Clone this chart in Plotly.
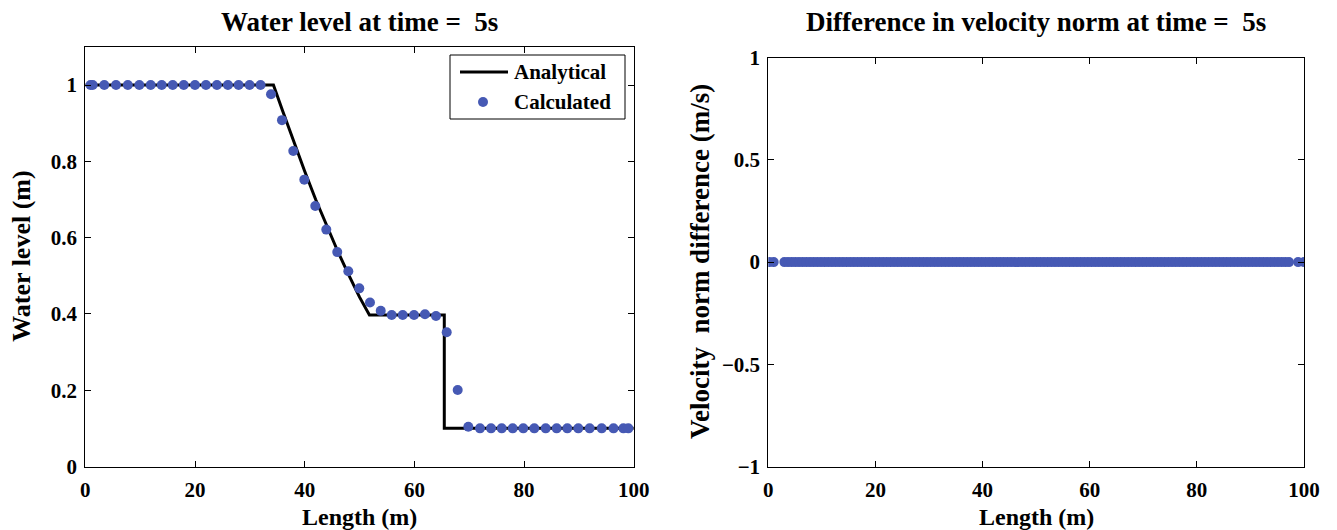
import numpy as np
import plotly.graph_objects as go

# ---- data ----
ana_x = [0, 34.3, 36, 38, 40, 42, 44, 46, 48, 50, 51.8, 65.45, 65.45, 100]
ana_y = [1.0, 1.0, 0.931, 0.850, 0.774, 0.700, 0.631, 0.565, 0.503, 0.444, 0.397, 0.397, 0.1, 0.1]

calc_x = [0.95, 1.35, 3.46, 5.60, 7.75, 9.85, 11.92, 13.93, 15.94, 17.95, 20.0, 22.0, 24.0, 26.0,
          27.95, 29.95, 31.95, 33.86, 35.86, 37.92, 39.93, 41.93, 43.94, 45.94, 47.95, 49.95,
          51.9, 53.86, 55.86, 57.87, 59.93, 61.93, 63.94, 65.89, 67.89, 69.83, 71.96, 73.97,
          75.92, 77.92, 79.85, 81.86, 83.94, 85.94, 87.88, 89.88, 91.95, 94.15, 96.3, 98.1, 99.0]
calc_y = [1.0, 1.0, 1.0, 1.0, 1.0, 1.0, 1.0, 1.0, 1.0, 1.0, 1.0, 1.0, 1.0, 1.0,
          1.0, 1.0, 1.0, 0.976, 0.908, 0.827, 0.752, 0.683, 0.621, 0.562, 0.512, 0.467,
          0.430, 0.408, 0.397, 0.397, 0.397, 0.399, 0.3945, 0.352, 0.2005, 0.104, 0.1, 0.1,
          0.1, 0.1, 0.1, 0.1, 0.1, 0.1, 0.1, 0.1, 0.1, 0.1, 0.1, 0.1, 0.1]

# mesh nodes of the velocity-difference plot
vel_x = [0.2, 1.0] + list(np.linspace(3.0, 97.2, 139)) + [98.9, 100.0]
vel_diff = [0.0] * len(vel_x)

x_ticks = [0, 20, 40, 60, 80, 100]
left_yticks = [0, 0.2, 0.4, 0.6, 0.8, 1]
left_yticklabels = ["0", "0.2", "0.4", "0.6", "0.8", "1"]
right_yticks = [-1, -0.5, 0, 0.5, 1]
right_yticklabels = ["\u22121", "\u22120.5", "0", "0.5", "1"]
legend_names = ["Analytical", "Calculated"]

# ---- styling ----
# the page body has an 8px margin, so the figure starts at (8, 8) in the window
OX, OY = 8, 8
W, H = 1337 - OX, 530 - OY
FONT = "Liberation Serif"
DOT = "#4659B4"
DOT_SIZE = 10

def px_x(p):
    return (p - OX) / W

def px_y(p):
    return 1 - (p - OY) / H

fig = go.Figure()
fig.add_trace(go.Scatter(x=ana_x, y=ana_y, mode="lines", name=legend_names[0],
                         line=dict(color="black", width=3), xaxis="x", yaxis="y",
                         showlegend=False))
fig.add_trace(go.Scatter(x=calc_x, y=calc_y, mode="markers", name=legend_names[1],
                         marker=dict(color=DOT, size=DOT_SIZE), xaxis="x", yaxis="y",
                         showlegend=False))
fig.add_trace(go.Scatter(x=vel_x, y=vel_diff, mode="markers", showlegend=False,
                         marker=dict(color=DOT, size=DOT_SIZE), xaxis="x2", yaxis="y2"))

tickfont = dict(family=FONT, size=21, color="black", weight="bold")
common = dict(showline=True, linecolor="black", linewidth=1, mirror="ticks",
              ticks="inside", ticklen=6, tickcolor="black", tickwidth=1,
              showgrid=False, zeroline=False, tickfont=tickfont, automargin=False)

L1, R1, T1, B1 = 85.3, 633.8, 46.9, 466.5
L2, R2, T2, B2 = 768.3, 1304, 57.7, 466.5

fig.update_layout(
    template="none",
    width=W, height=H,
    margin=dict(l=0, r=0, t=0, b=0, pad=0),
    paper_bgcolor="white", plot_bgcolor="white",
    xaxis=dict(domain=[px_x(L1), px_x(R1)], range=[0, 100], tickvals=x_ticks,
               anchor="y", ticklabelstandoff=4, **common),
    yaxis=dict(domain=[px_y(B1), px_y(T1)], range=[0, 1.1], tickvals=left_yticks,
               ticktext=left_yticklabels, anchor="x", ticklabelstandoff=3, **common),
    xaxis2=dict(domain=[px_x(L2), px_x(R2)], range=[0, 100], tickvals=x_ticks,
                anchor="y2", ticklabelstandoff=4, **common),
    yaxis2=dict(domain=[px_y(B2), px_y(T2)], range=[-1, 1], tickvals=right_yticks,
                ticktext=right_yticklabels, anchor="x2", ticklabelstandoff=3, **common),
    showlegend=False,
)

# ---- manual legend (box, line sample, marker sample, text) ----
LG_L, LG_R, LG_T, LG_B = 450, 625, 55, 119
ROW1, ROW2 = 72, 102
fig.add_shape(type="rect", xref="paper", yref="paper",
              x0=px_x(LG_L), x1=px_x(LG_R), y0=px_y(LG_B), y1=px_y(LG_T),
              line=dict(color="black", width=1), fillcolor="white")
fig.add_shape(type="line", xref="paper", yref="paper",
              x0=px_x(460), x1=px_x(508), y0=px_y(ROW1), y1=px_y(ROW1),
              line=dict(color="black", width=3))
r = DOT_SIZE / 2
fig.add_shape(type="circle", xref="paper", yref="paper",
              x0=px_x(483 - r), x1=px_x(483 + r), y0=px_y(ROW2 + r), y1=px_y(ROW2 - r),
              line=dict(color=DOT, width=0), fillcolor=DOT)
legend_font = dict(family=FONT, size=21, color="black", weight="bold")
for name, row in zip(legend_names, [ROW1, ROW2]):
    fig.add_annotation(text=name, x=px_x(512), y=px_y(row), xref="paper", yref="paper",
                       showarrow=False, font=legend_font, xanchor="left", yanchor="middle")

title_font = dict(family=FONT, size=27, color="black", weight="bold")
hlabel_font = dict(family=FONT, size=24, color="black", weight="bold")
vlabel_font = dict(family=FONT, size=26, color="black", weight="bold")
vlabel_font2 = dict(family=FONT, size=27, color="black", weight="bold")
ann = [
    dict(text="Water level at time = \u00a05s", x=px_x((L1 + R1) / 2), y=px_y(22)),
    dict(text="Difference in velocity norm at time = \u00a05s", x=px_x((L2 + R2) / 2), y=px_y(22)),
]
for a in ann:
    fig.add_annotation(text=a["text"], x=a["x"], y=a["y"], xref="paper", yref="paper",
                       showarrow=False, font=title_font, xanchor="center", yanchor="middle")
labels = [
    dict(text="Length (m)", x=px_x((L1 + R1) / 2), y=px_y(517), angle=0, f=hlabel_font),
    dict(text="Length (m)", x=px_x((L2 + R2) / 2), y=px_y(517), angle=0, f=hlabel_font),
    dict(text="Water level (m)", x=px_x(22), y=px_y((T1 + B1) / 2), angle=-90, f=vlabel_font),
    dict(text="Velocity \u00a0norm difference (m/s)", x=px_x(700), y=px_y((T2 + B2) / 2),
         angle=-90, f=vlabel_font2),
]
for a in labels:
    fig.add_annotation(text=a["text"], x=a["x"], y=a["y"], xref="paper", yref="paper",
                       showarrow=False, font=a["f"], textangle=a["angle"],
                       xanchor="center", yanchor="middle")

fig.write_html("out.html")
